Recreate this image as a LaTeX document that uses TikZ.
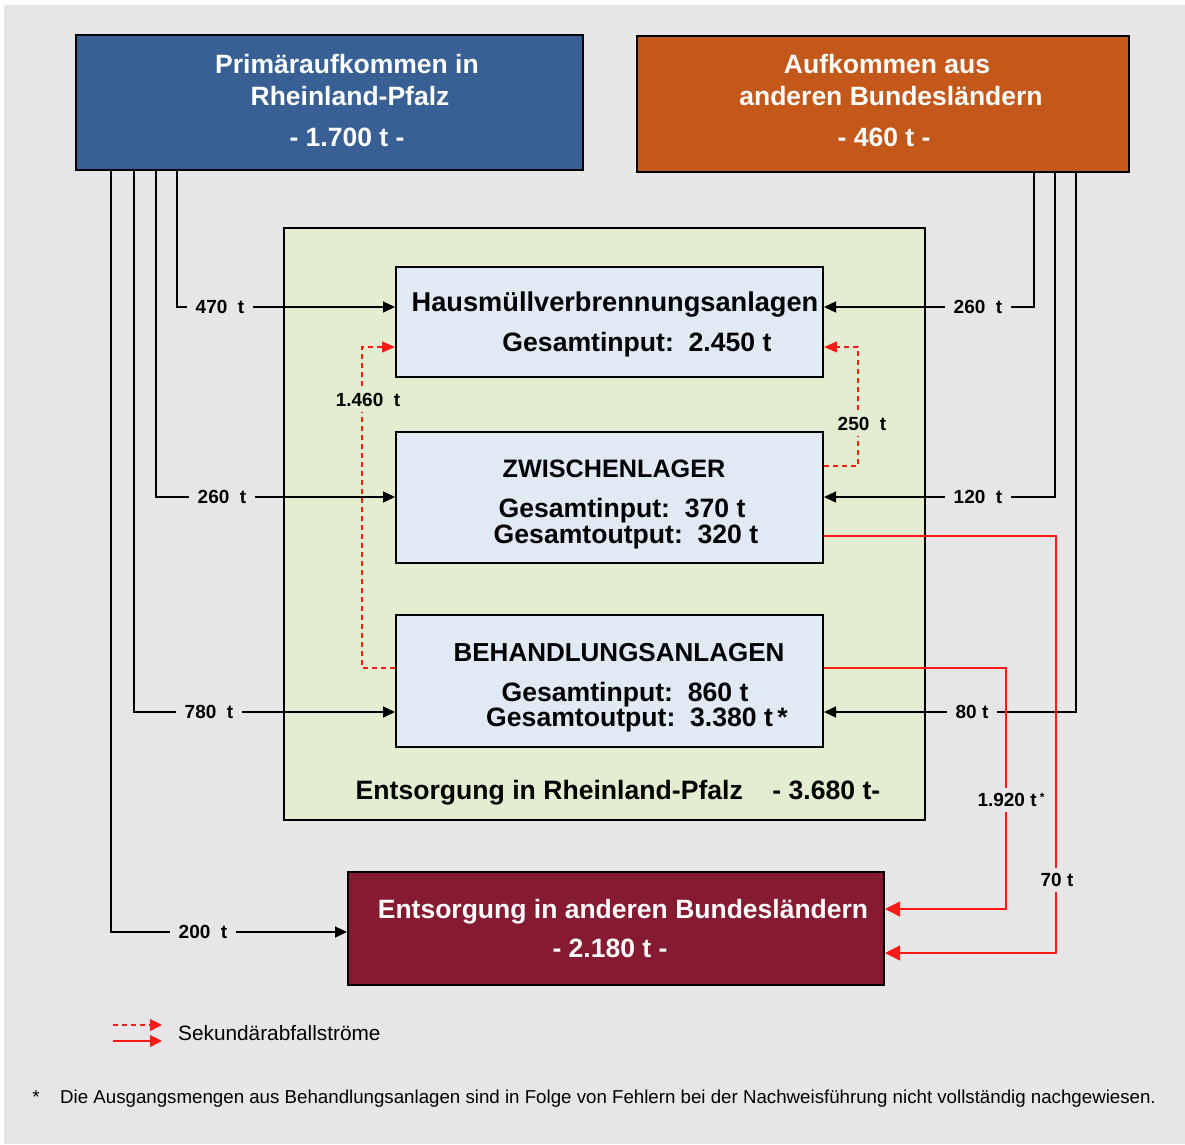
\documentclass[tikz,border=0pt]{standalone}
\usepackage{fontspec}
\setmainfont{Liberation Sans}
\usetikzlibrary{arrows.meta}
\definecolor{bgray}{HTML}{E6E6E6}
\definecolor{pblue}{HTML}{386094}
\definecolor{porange}{HTML}{C4581B}
\definecolor{pdred}{HTML}{861A30}
\definecolor{pgreen}{HTML}{E3EDCF}
\definecolor{pbox}{HTML}{E1E9F5}
\definecolor{fred}{HTML}{FF1A1A}
\begin{document}
\begin{tikzpicture}[x=1pt,y=-1pt,
  box/.style={draw=black, line width=2pt, inner sep=0pt},
  txt/.style={inner sep=0pt, text depth=0pt},
  wt/.style={txt, text height=19pt, text=white, font=\fontsize{26.5}{30}\selectfont\bfseries},
  bt/.style={txt, text height=19pt, font=\fontsize{26.6}{30}\selectfont\bfseries},
  lbl/.style={txt, text height=13.7pt, font=\fontsize{19}{22}\selectfont\bfseries, fill=bgray, inner xsep=9pt, inner ysep=5pt},
  glbl/.style={lbl, fill=pgreen},
  flow/.style={line width=1.3pt, -{Triangle[length=12pt,width=11pt]}},
  sec/.style={fred, line width=1.3pt, -{Triangle[length=15pt,width=15pt]}},
  secd/.style={fred, line width=1.3pt, dash pattern=on 5pt off 4pt, -{Triangle[length=13pt,width=11pt]}},
]
\fill[white] (0,0) rectangle (1185,1144);
\fill[bgray] (4,5) rectangle (1185,1144);
\useasboundingbox (0,0) rectangle (1185,1144);

% boxes
\node[box, fill=pblue, minimum width=507pt, minimum height=135pt] (prim) at (329.5,102.5) {};
\node[box, fill=porange, minimum width=492pt, minimum height=136pt] (aufk) at (883,104) {};
\node[box, fill=pgreen, minimum width=641pt, minimum height=592pt] (rlp) at (604.5,524) {};
\node[box, fill=pbox, minimum width=427pt, minimum height=110pt] (hmv) at (609.5,322) {};
\node[box, fill=pbox, minimum width=427pt, minimum height=131pt] (zw) at (609.5,497.5) {};
\node[box, fill=pbox, minimum width=427pt, minimum height=132pt] (beh) at (609.5,681) {};
\node[box, fill=pdred, minimum width=536pt, minimum height=113pt] (ext) at (616,928.5) {};

% box texts
\node[wt] (prim1) at (347,64) {Primäraufkommen in};
\node[wt] (prim2) at (350,96) {Rheinland-Pfalz};
\node[wt] (prim3) at (347,137) {- 1.700 t -};
\node[wt] (aufk1) at (887,64) {Aufkommen aus};
\node[wt] (aufk2) at (891,96) {anderen Bundesländern};
\node[wt] (aufk3) at (884,137) {- 460 t -};
\node[bt, font=\fontsize{27.2}{30}\selectfont\bfseries] (hmv1) at (615,302) {Hausmüllverbrennungsanlagen};
\node[bt] (hmv2) at (637,342) {Gesamtinput:\ \ 2.450 t};
\node[bt, font=\fontsize{25.2}{28}\selectfont\bfseries] (zw1) at (614,468) {ZWISCHENLAGER};
\node[bt] (zw2) at (622,508) {Gesamtinput:\ \ 370 t};
\node[bt] (zw3) at (626,534) {Gesamtoutput:\ \ 320 t};
\node[bt, font=\fontsize{26}{30}\selectfont\bfseries] (beh1) at (619,652) {BEHANDLUNGSANLAGEN};
\node[bt] (beh2) at (625,692) {Gesamtinput:\ \ 860 t};
\node[bt] (beh3) at (637,717) {Gesamtoutput:\ \ 3.380 t\,*};
\node[bt] (rlp1) at (618,790) {Entsorgung in Rheinland-Pfalz\ \ \ \ - 3.680 t-};
\node[wt] (ext1) at (623,909) {Entsorgung in anderen Bundesländern};
\node[wt] (ext2) at (610,948) {- 2.180 t -};

% primary flows
\draw[flow] (prim.south -| 177,0) |- (hmv.west |- 0,307);
\draw[flow] (prim.south -| 156,0) |- (zw.west |- 0,497);
\draw[flow] (prim.south -| 134,0) |- (beh.west |- 0,712);
\draw[flow] (prim.south -| 111,0) |- (ext.west |- 0,932);
\draw[flow] (aufk.south -| 1034,0) |- (hmv.east |- 0,307);
\draw[flow] (aufk.south -| 1055,0) |- (zw.east |- 0,497);
\draw[flow] (aufk.south -| 1076,0) |- (beh.east |- 0,712);

% secondary flows
\draw[secd] (beh.west |- 0,668) -- (362,668) |- (hmv.west |- 0,347);
\draw[secd] (zw.east |- 0,466) -- (858,466) |- (hmv.east |- 0,347);
\draw[sec] (zw.east |- 0,536) -| (1056,953) -- (ext.east |- 0,953);
\draw[sec] (beh.east |- 0,668) -| (1006,909) -- (ext.east |- 0,909);

% labels
\node[lbl] (l470) at (220,307) {470\ \ t};
\node[lbl] (l260a) at (222,497) {260\ \ t};
\node[lbl] (l780) at (209,712) {780\ \ t};
\node[lbl] (l200) at (203,932) {200\ \ t};
\node[lbl] (l260b) at (978,307) {260\ \ t};
\node[lbl] (l120) at (978,497) {120\ \ t};
\node[lbl] (l80) at (972,712) {80 t};
\node[glbl] (l1460) at (368,400) {1.460\ \ t};
\node[glbl] (l250) at (862,424) {250\ \ t};
\node[lbl] (l1920) at (1011,800) {1.920 t\,\raisebox{0.3em}{\fontsize{12}{12}\selectfont *}};
\node[lbl] (l70) at (1057,880) {70 t};

% legend
\coordinate (lga) at (113,1025);
\coordinate (lgb) at (162,1025);
\coordinate (lgc) at (113,1041);
\coordinate (lgd) at (162,1041);
\draw[secd, -{Triangle[length=12pt,width=12pt]}] (lga) -- (lgb);
\draw[sec, -{Triangle[length=12pt,width=12pt]}] (lgc) -- (lgd);
\node[txt, text height=15pt, anchor=west, font=\fontsize{20.8}{24}\selectfont] (lgt) at (178,1033) {Sekundärabfallströme};

% footnote
\node[txt, text height=13.5pt, font=\fontsize{18.7}{22}\selectfont] (fns) at (36,1097) {*};
\node[txt, text height=13.5pt, anchor=west, font=\fontsize{18.7}{22}\selectfont] (fnt) at (60,1097) {Die Ausgangsmengen aus Behandlungsanlagen sind in Folge von Fehlern bei der Nachweisführung nicht vollständig nachgewiesen.};
\end{tikzpicture}
\end{document}
